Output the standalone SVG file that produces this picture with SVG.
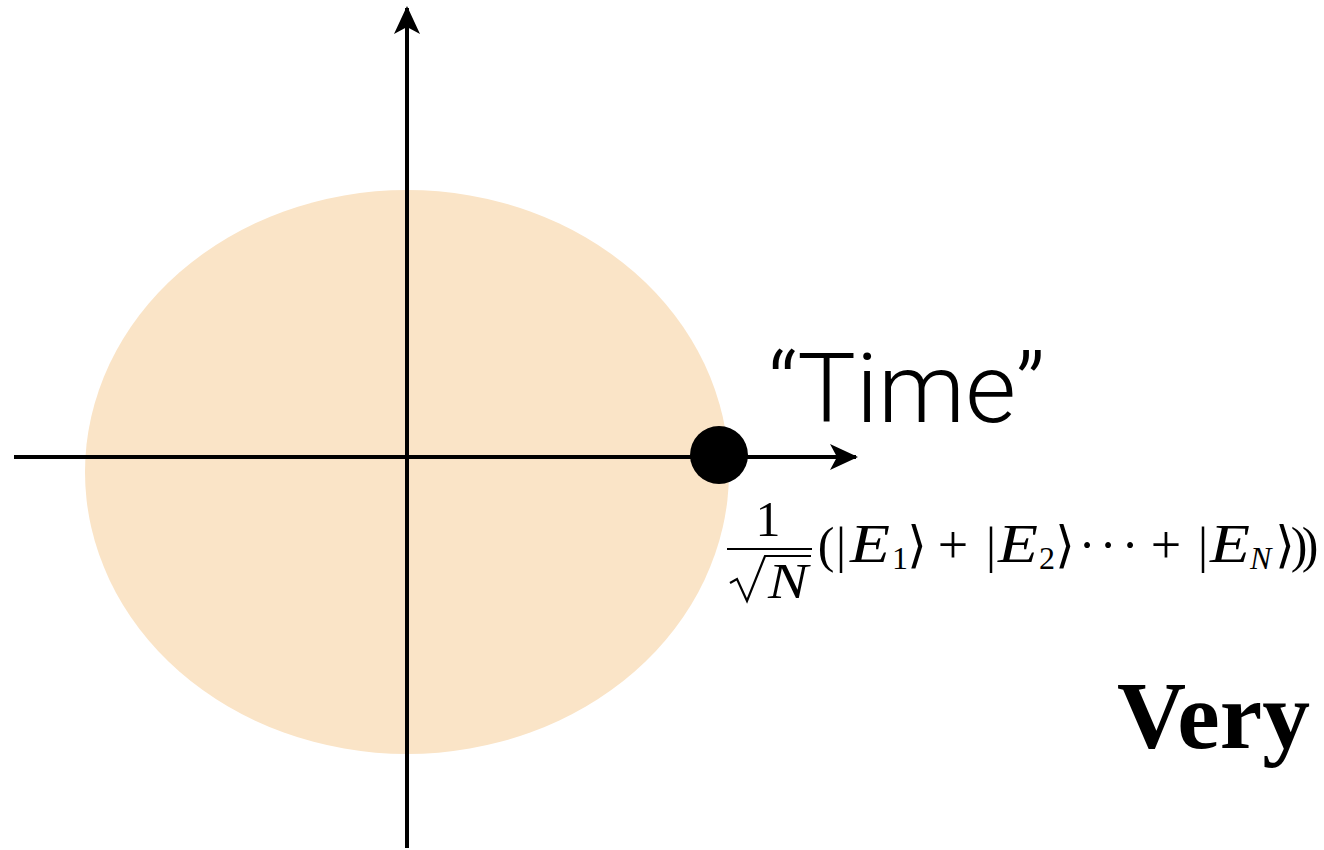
<svg xmlns="http://www.w3.org/2000/svg" width="1324" height="850" viewBox="0 0 1324 850">
<style>
.ax{stroke:#000;stroke-width:4;fill:none}
.m{font-family:"Liberation Serif","DejaVu Serif",serif;font-size:50px;fill:#000}
.c{text-anchor:middle}
.i{font-style:italic}
.e{font-size:54px}
.s{font-size:32px}
.p{font-size:54px}
</style>
<defs>
<marker id="ah" viewBox="0 0 28 28" refX="26" refY="14" markerWidth="28" markerHeight="28" markerUnits="userSpaceOnUse" orient="auto">
<path d="M0,1 L28,14 L0,27 L7,14 Z" fill="#000"/>
</marker>
</defs>
<rect width="1324" height="850" fill="#fff"/>
<g id="disk"><ellipse cx="407" cy="472" rx="322" ry="282" fill="#fae4c7"/></g>
<g id="connectors">
<line class="ax" x1="407" y1="848" x2="407" y2="8" marker-end="url(#ah)"/>
<line class="ax" x1="14" y1="457" x2="856" y2="457" marker-end="url(#ah)"/>
</g>
<g id="point"><circle cx="719" cy="455" r="29" fill="#000"/></g>
<g id="time"><text x="768" y="422" font-family="Roboto,Liberation Sans,sans-serif" font-weight="300" font-size="96" textLength="277" lengthAdjust="spacingAndGlyphs">“Time”</text></g>
<g id="state">
<text x="768" y="536" class="m c">1</text>
<line x1="727" y1="549" x2="812" y2="549" stroke="#000" stroke-width="2.2"/>
<path d="M730,583 L737,579 L747,601 L765,556 L811,556" fill="none" stroke="#000" stroke-width="2.2"/>
<text x="768" y="598" class="m i" textLength="40" lengthAdjust="spacingAndGlyphs">N</text>
<text x="826" y="562" class="m c">(</text>
<text x="841" y="562" class="m c">|</text>
<text x="850" y="562" class="m i e" textLength="40" lengthAdjust="spacingAndGlyphs">E</text>
<text x="892" y="569" class="m s">1</text>
<text x="917" y="562" class="m c">⟩</text>
<text x="953" y="563" class="m c p">+</text>
<text x="991" y="562" class="m c">|</text>
<text x="998" y="562" class="m i e" textLength="40" lengthAdjust="spacingAndGlyphs">E</text>
<text x="1039" y="569" class="m s">2</text>
<text x="1065" y="562" class="m c">⟩</text>
<text x="1087" y="562" class="m c">·</text>
<text x="1108" y="562" class="m c">·</text>
<text x="1130" y="562" class="m c">·</text>
<text x="1166" y="563" class="m c p">+</text>
<text x="1203" y="562" class="m c">|</text>
<text x="1210" y="562" class="m i e" textLength="40" lengthAdjust="spacingAndGlyphs">E</text>
<text x="1250" y="569" class="m s i">N</text>
<text x="1285" y="562" class="m c">⟩</text>
<text x="1299" y="562" class="m c">)</text>
<text x="1310" y="562" class="m c">)</text>
</g>
<g id="very"><text x="1117" y="748" font-family="Liberation Serif,Times New Roman,serif" font-weight="bold" font-size="96" textLength="193" lengthAdjust="spacingAndGlyphs">Very</text></g>
</svg>
